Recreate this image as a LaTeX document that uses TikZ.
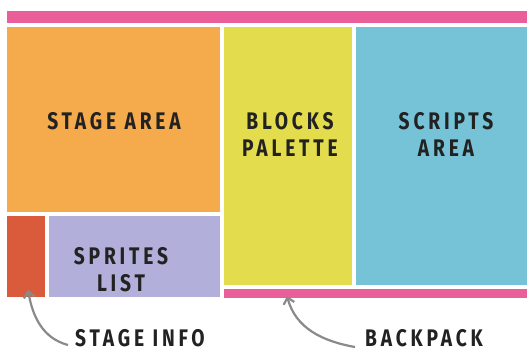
\documentclass[tikz,border=0pt]{standalone}
\usepackage{fontspec}
\setmainfont{Fira Sans}
\newfontfamily\lblfont[LetterSpace=16,FakeStretch=0.8]{Fira Sans Bold}
\usetikzlibrary{arrows.meta}
\definecolor{cpink}{HTML}{EA5F9A}
\definecolor{corange}{HTML}{F5AA4C}
\definecolor{cyellow}{HTML}{E3DC4C}
\definecolor{cblue}{HTML}{76C2D6}
\definecolor{cred}{HTML}{D95B3C}
\definecolor{clav}{HTML}{B2B0DA}
\definecolor{ctext}{HTML}{222222}
\definecolor{carrow}{HTML}{8A8A8A}
\begin{document}
\begin{tikzpicture}[x=1pt,y=-1pt,
  area/.style={draw=none,inner sep=0pt,outer sep=0pt,anchor=north west},
  lbl/.style={font=\lblfont\fontsize{24}{27}\selectfont,text=ctext,inner sep=0pt,align=center},
  callout/.style={draw=carrow,line width=2.2pt,-{Straight Barb[length=6pt,width=11pt]}}]
\useasboundingbox (0,0) rectangle (527,350);
\node[area,fill=cpink,minimum width=520pt,minimum height=12pt] (top) at (7,11) {};
\node[area,fill=corange,minimum width=213pt,minimum height=185pt] (stage) at (7,27) {};
\node[area,fill=cyellow,minimum width=128pt,minimum height=258pt] (blocks) at (224,27) {};
\node[area,fill=cblue,minimum width=171pt,minimum height=258pt] (scripts) at (356,27) {};
\node[area,fill=cred,minimum width=38pt,minimum height=81pt] (info) at (7,216) {};
\node[area,fill=clav,minimum width=171pt,minimum height=81pt] (sprites) at (49,216) {};
\node[area,fill=cpink,minimum width=303pt,minimum height=9pt] (back) at (224,289) {};
\node[lbl] (tstage) at (114,121) {STAGE AREA};
\node[lbl] (tblocks) at (290,134.5) {BLOCKS\\PALETTE};
\node[lbl] (tscripts) at (446,134.5) {SCRIPTS\\AREA};
\node[lbl] (tsprites) at (121,269.5) {SPRITES\\LIST};
\node[lbl,anchor=west] (tinfo) at (75,338) {STAGE INFO};
\node[lbl,anchor=west] (tback) at (365,338) {BACKPACK};
\coordinate (pinfo) at (28,290);
\coordinate (pback) at (287,296);
\draw[callout] (tinfo.west) ++(-7,7) to[out=165,in=-80] (pinfo);
\draw[callout] (tback.west) ++(-10,9) to[out=170,in=-75] (pback);
\end{tikzpicture}
\end{document}
